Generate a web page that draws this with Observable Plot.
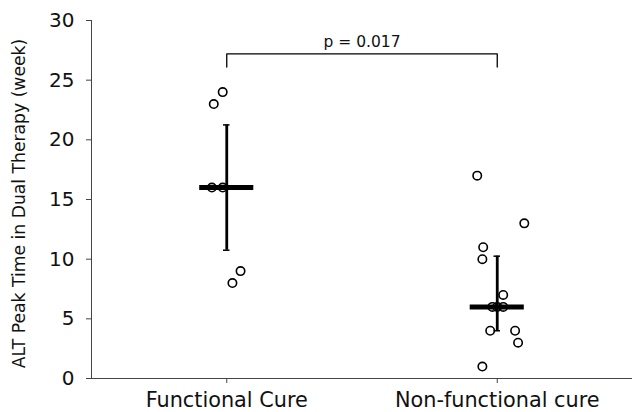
<!DOCTYPE html>
<html>
<head>
<meta charset="utf-8">
<script src="https://cdn.jsdelivr.net/npm/d3@7"></script>
<script src="https://cdn.jsdelivr.net/npm/@observablehq/plot@0.6"></script>
<style>
  html, body { margin: 0; padding: 0; background: #fff; }
</style>
</head>
<body>
<div id="chart"></div>
<script>
const categories = ["Functional Cure", "Non-functional cure"];
const functionalValues = [24, 23, 16, 16, 8, 9];
const functionalJitter = [-0.015, -0.048, -0.055, -0.015, 0.021, 0.051];
const nonfunctionalValues = [17, 13, 11, 10, 7, 6, 6, 6, 4, 4, 3, 1];
const nonfunctionalJitter = [-0.074, 0.1, -0.052, -0.055, 0.022, 0.022, 0, -0.018, -0.026, 0.066, 0.077, -0.055];
const yTicks = [0, 5, 10, 15, 20, 25, 30];
const yLabel = "ALT Peak Time in Dual Therapy (week)";
const pLabel = "p = 0.017";

const groups = [functionalValues, nonfunctionalValues];
const jitters = [functionalJitter, nonfunctionalJitter];

const points = groups.flatMap((vals, i) => vals.map((v, k) => ({i, v, j: jitters[i][k]})));
const summary = groups.map((vals, i) => ({
  i,
  median: d3.median(vals),
  q1: d3.quantile(vals, 0.25),
  q3: d3.quantile(vals, 0.75)
}));
const maxValue = d3.max(points, d => d.v);
const bracketY = maxValue + 3.2;
const bracket = [
  {x: 0, y: bracketY - 1.1},
  {x: 0, y: bracketY},
  {x: 1, y: bracketY},
  {x: 1, y: bracketY - 1.1}
];

const chart = Plot.plot({
  width: 632,
  height: 412,
  marginTop: 20,
  marginBottom: 34,
  marginLeft: 91,
  marginRight: 0,
  style: {fontFamily: "DejaVu Sans", fontSize: "20px", color: "#111", background: "#fff"},
  x: {domain: [-0.5, 1.5]},
  y: {domain: [0, 30]},
  marks: [
    Plot.ruleX([-0.5], {stroke: "#444", strokeWidth: 1}),
    Plot.ruleY([0], {stroke: "#444", strokeWidth: 1}),
    Plot.axisY({ticks: yTicks, tickSize: 5, tickPadding: 12, label: null, stroke: "#444"}),
    Plot.axisX({ticks: [0, 1], tickFormat: i => categories[i], tickSize: 5, tickPadding: 9, fontSize: 20.8, label: null, stroke: "#444"}),
    Plot.text([yLabel], {frameAnchor: "left", dx: -72, dy: 4, rotate: -90, textAnchor: "middle", fontSize: 17.2, text: d => d}),
    Plot.ruleX(summary, {x: "i", y1: "q1", y2: "q3", stroke: "black", strokeWidth: 2.8}),
    Plot.ruleY(summary, {y: "q1", x1: d => d.i - 0.012, x2: d => d.i + 0.012, stroke: "black", strokeWidth: 1.5}),
    Plot.ruleY(summary, {y: "q3", x1: d => d.i - 0.012, x2: d => d.i + 0.012, stroke: "black", strokeWidth: 1.5}),
    Plot.ruleY(summary, {y: "median", x1: d => d.i - 0.1, x2: d => d.i + 0.1, stroke: "black", strokeWidth: 5}),
    Plot.dot(points, {x: d => d.i + d.j, y: "v", r: 4.2, stroke: "black", strokeWidth: 1.6, fill: "none"}),
    Plot.line(bracket, {x: "x", y: "y", stroke: "black", strokeWidth: 1.3}),
    Plot.text([pLabel], {x: 0.5, y: bracketY, dy: -12, text: d => d, fontSize: 15.5})
  ]
});
document.getElementById("chart").appendChild(chart);
</script>
</body>
</html>
